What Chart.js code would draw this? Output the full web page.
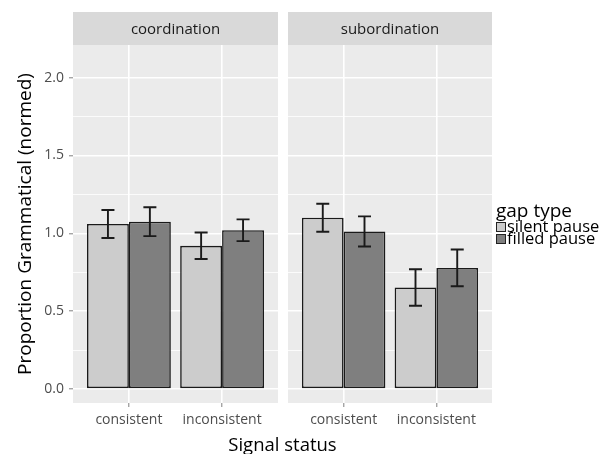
<!DOCTYPE html>
<html>
<head>
<meta charset="utf-8">
<script src="https://cdn.jsdelivr.net/npm/chart.js@4.4.1/dist/chart.umd.min.js"></script>
<style>
  body { margin: 0; width: 612px; height: 454px; background: #fff; position: relative; overflow: hidden; font-family: "Open Sans", sans-serif; }
  .wrap { position: absolute; top: 0; height: 454px; }
  #leftWrap { left: 0; width: 282px; }
  #rightWrap { left: 284px; width: 328px; }
  #xTitle { position: absolute; top: 433px; left: 73px; width: 419px; text-align: center; font-size: 18.5px; line-height: 22px; color: #000; }
  #legend { position: absolute; left: 496px; top: 200px; color: #000; }
  #legend .ttl { font-size: 19px; line-height: 20px; }
  #legend .row { font-size: 16.5px; line-height: 12px; height: 12px; white-space: nowrap; }
  #legend .sw { display: inline-block; width: 8px; height: 8px; border: 1px solid #222; vertical-align: 0px; margin-right: 1px; }
</style>
</head>
<body>
<div id="leftWrap" class="wrap"><canvas id="leftChart" width="282" height="454"></canvas></div>
<div id="rightWrap" class="wrap"><canvas id="rightChart" width="328" height="454"></canvas></div>
<div id="xTitle">Signal status</div>
<div id="legend"></div>

<script>
// data
const signalStatus = ['consistent', 'inconsistent'];
const gapTypes = ['silent pause', 'filled pause'];
const gapColors = ['#CCCCCC', '#7F7F7F'];

const coordSilent = [1.06, 0.92];
const coordSilentErr = [0.09, 0.085];
const coordFilled = [1.075, 1.02];
const coordFilledErr = [0.093, 0.07];

const subordSilent = [1.10, 0.652];
const subordSilentErr = [0.09, 0.117];
const subordFilled = [1.012, 0.778];
const subordFilledErr = [0.097, 0.118];

const yMajor = [0, 0.5, 1, 1.5, 2];
const yMinor = [0.25, 0.75, 1.25, 1.75];

// panel background, strip and error bars
const panelPlugin = {
    id: 'panel',
    beforeDraw(chart, args, opts) {
        const ctx = chart.ctx;
        const a = chart.chartArea;
        ctx.save();
        ctx.fillStyle = '#EBEBEB';
        ctx.fillRect(a.left, a.top, a.right - a.left, a.bottom - a.top);
        ctx.fillStyle = '#D9D9D9';
        ctx.fillRect(a.left, 12, a.right - a.left, a.top - 12);
        ctx.fillStyle = '#1a1a1a';
        ctx.font = '15px "Open Sans"';
        ctx.textAlign = 'center';
        ctx.textBaseline = 'middle';
        ctx.fillText(opts.strip, (a.left + a.right) / 2, (12 + a.top) / 2 + 1);
        ctx.restore();
    },
    afterDatasetsDraw(chart, args, opts) {
        const ctx = chart.ctx;
        const y = chart.scales.y;
        ctx.save();
        ctx.strokeStyle = '#1a1a1a';
        ctx.lineWidth = 1.9;
        chart.data.datasets.forEach((ds, i) => {
            chart.getDatasetMeta(i).data.forEach((bar, j) => {
                const m = ds.data[j].y;
                const e = opts.errors[i][j];
                const top = y.getPixelForValue(m + e);
                const bot = y.getPixelForValue(m - e);
                ctx.beginPath();
                ctx.moveTo(bar.x, top); ctx.lineTo(bar.x, bot);
                ctx.moveTo(bar.x - 6.5, top); ctx.lineTo(bar.x + 6.5, top);
                ctx.moveTo(bar.x - 6.5, bot); ctx.lineTo(bar.x + 6.5, bot);
                ctx.stroke();
            });
        });
        ctx.restore();
    }
};

function makeDatasets(silent, filled) {
    return [silent, filled].map((vals, i) => ({
        label: gapTypes[i],
        data: vals.map((v, k) => ({ x: k, y: v })),
        backgroundColor: gapColors[i],
        borderColor: '#1a1a1a',
        borderWidth: 1.6,
        borderSkipped: false,
        categoryPercentage: 0.9,
        barPercentage: 1.0,
    }));
}

function isMajor(v) {
    return yMajor.some(m => Math.abs(m - v) < 1e-9);
}

function makeConfig(silent, filled, errs, strip, showY) {
    return {
        type: 'bar',
        data: { datasets: makeDatasets(silent, filled) },
        options: {
            responsive: false,
            animation: false,
            layout: { padding: { top: 45, right: showY ? 4 : 120, left: 0, bottom: 0 } },
            plugins: {
                legend: { display: false },
                tooltip: { enabled: false },
                panel: { strip: strip, errors: errs },
            },
            scales: {
                x: {
                    type: 'linear',
                    min: -0.6,
                    max: 1.6,
                    offset: false,
                    afterBuildTicks: s => { s.ticks = signalStatus.map((_, k) => ({ value: k })); },
                    afterFit: s => { s.height = 51; },
                    border: { display: false },
                    grid: { offset: false, color: '#FFFFFF', lineWidth: 1.6, tickColor: '#7F7F7F', tickLength: 4, tickWidth: 1 },
                    ticks: {
                        padding: 5,
                        color: '#4D4D4D',
                        font: { family: 'Open Sans', size: 14 },
                        maxRotation: 0,
                        callback: v => signalStatus[v],
                    },
                },
                y: {
                    min: -0.09,
                    max: 2.21,
                    afterBuildTicks: s => {
                        s.ticks = yMajor.concat(yMinor).sort((p, q) => p - q).map(v => ({ value: v }));
                    },
                    afterFit: s => { s.width = showY ? 73 : 4; },
                    border: { display: false },
                    grid: {
                        color: '#FFFFFF',
                        lineWidth: c => isMajor(c.tick.value) ? 1.6 : 0.8,
                        drawTicks: showY,
                        tickColor: c => (isMajor(c.tick.value) ? '#7F7F7F' : 'rgba(0,0,0,0)'),
                        tickLength: 4,
                        tickWidth: 1,
                    },
                    ticks: {
                        display: showY,
                        padding: 5,
                        color: '#4D4D4D',
                        font: { family: 'Open Sans', size: 14 },
                        callback: v => isMajor(v) ? v.toFixed(1) : '',
                    },
                    title: {
                        display: showY,
                        text: 'Proportion Grammatical (normed)',
                        color: '#000000',
                        font: { family: 'Open Sans', size: 19 },
                        padding: { top: 14, bottom: 0 },
                    },
                },
            },
        },
        plugins: [panelPlugin],
    };
}

new Chart(document.getElementById('leftChart'),
    makeConfig(coordSilent, coordFilled, [coordSilentErr, coordFilledErr], 'coordination', true));
new Chart(document.getElementById('rightChart'),
    makeConfig(subordSilent, subordFilled, [subordSilentErr, subordFilledErr], 'subordination', false));

// legend
const legend = document.getElementById('legend');
legend.innerHTML = '<div class="ttl">gap type</div>' + gapTypes.map((g, i) =>
    '<div class="row"><span class="sw" style="background:' + gapColors[i] + '"></span>' + g + '</div>').join('');
</script>
</body>
</html>
